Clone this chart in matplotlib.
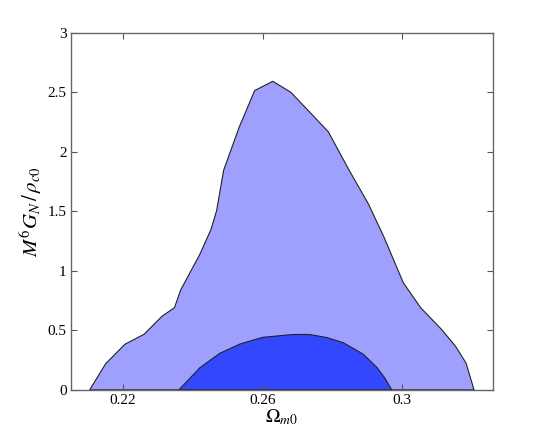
import matplotlib
matplotlib.use('Agg')
import matplotlib.pyplot as plt
import numpy as np

# Outer (light) region boundary
outer_x = [0.2104, 0.2150, 0.2205, 0.2260, 0.2312, 0.2347, 0.2365, 0.2420, 0.2452, 0.2468,
           0.2488, 0.2533, 0.2577, 0.2629, 0.2681, 0.2738, 0.2788, 0.2848, 0.2903, 0.2948,
           0.3003, 0.3053, 0.3113, 0.3153, 0.3183, 0.3206]
outer_y = [0.0, 0.22, 0.383, 0.467, 0.62, 0.69, 0.84, 1.14, 1.35, 1.507,
           1.845, 2.21, 2.515, 2.593, 2.5, 2.324, 2.169, 1.845, 1.563, 1.282,
           0.901, 0.69, 0.507, 0.366, 0.225, 0.0]

# Inner (dark) region boundary
inner_x = [0.2360, 0.2420, 0.2477, 0.2535, 0.2600, 0.2686, 0.2734, 0.2783, 0.2831,
           0.2888, 0.2927, 0.2950, 0.2970]
inner_y = [0.0, 0.186, 0.307, 0.385, 0.441, 0.465, 0.465, 0.44, 0.396,
           0.30, 0.19, 0.10, 0.0]

xticks = [0.22, 0.26, 0.3]
xticklabels = ['0.22', '0.26', '0.3']
yticks = [0, 0.5, 1, 1.5, 2, 2.5, 3]
yticklabels = ['0', '0.5', '1', '1.5', '2', '2.5', '3']

light = '#9fa0fe'
dark = '#3347fe'

plt.rcParams['font.family'] = 'Liberation Serif'
plt.rcParams['mathtext.fontset'] = 'stix'

fig = plt.figure(figsize=(5.45, 4.38), dpi=100)
ax = fig.add_axes([0.13, 0.11, 0.775, 0.815])

ax.fill(outer_x, outer_y, facecolor=light, edgecolor='#222222', linewidth=0.8)
ax.fill(inner_x, inner_y, facecolor=dark, edgecolor='#222222', linewidth=0.8)

ax.set_xlim(0.205, 0.3261)
ax.set_ylim(0, 3)
ax.set_xticks(xticks)
ax.set_xticklabels(xticklabels)
ax.set_yticks(yticks)
ax.set_yticklabels(yticklabels)
ax.tick_params(direction='in', length=4, width=0.8, color='#555555', labelsize=11,
               top=True, right=True, pad=3)
for s in ax.spines.values():
    s.set_color('#666666')
    s.set_linewidth(1.0)

ax.set_xlabel(r'$\Omega_{m0}$', fontsize=14, labelpad=0)
ax.set_ylabel(r'$M^6G_N\,/\,\rho_{c0}$', fontsize=15, labelpad=3)

fig.savefig('out.png', dpi=100)
